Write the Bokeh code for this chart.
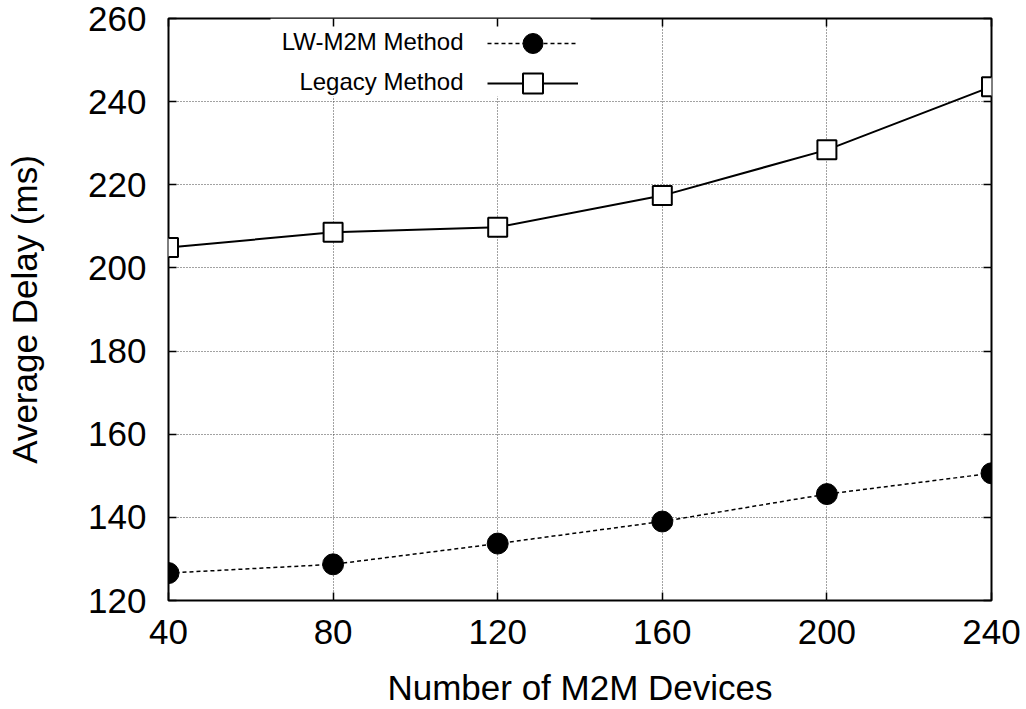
from bokeh.plotting import figure
from bokeh.models import (Range1d, FixedTicker, LinearAxis, Legend, LegendItem,
                          Label, BoxAnnotation)
from bokeh.embed import file_html
from bokeh.resources import INLINE

# ---- data ----
devices = [40, 80, 120, 160, 200, 240]
lw_m2m_delay = [126.6, 128.7, 133.7, 139.0, 145.6, 150.6]
legacy_delay = [204.9, 208.6, 209.8, 217.4, 228.4, 243.6]
x_ticks = [40, 80, 120, 160, 200, 240]
y_ticks = [120, 140, 160, 180, 200, 220, 240, 260]
series_names = ["LW-M2M Method", "Legacy Method"]
x_title = "Number of M2M Devices"
y_title = "Average Delay (ms)"

FONT = "Liberation Sans"

p = figure(width=1026, height=709, output_backend="svg", toolbar_location=None,
           x_range=Range1d(40, 240), y_range=Range1d(120, 260),
           min_border_left=168, min_border_right=35, min_border_top=18,
           min_border_bottom=108, background_fill_color="white",
           border_fill_color="white")

p.outline_line_color = "black"
p.outline_line_width = 2
p.outline_line_alpha = 1

# axes
for ax in [p.xaxis[0], p.yaxis[0]]:
    ax.axis_line_color = None
    ax.major_tick_in = 8
    ax.major_tick_out = 0
    ax.major_tick_line_width = 1.5
    ax.major_tick_line_color = "black"
    ax.minor_tick_line_color = None
    ax.major_label_text_font = FONT
    ax.major_label_text_font_size = "35px"
    ax.major_label_text_color = "black"
    ax.axis_label_text_font = FONT
    ax.axis_label_text_font_style = "normal"
    ax.axis_label_text_color = "black"
    ax.axis_label_text_font_size = "35px"

p.xaxis[0].ticker = FixedTicker(ticks=x_ticks)
p.yaxis[0].ticker = FixedTicker(ticks=y_ticks)
p.xaxis[0].axis_label = x_title
p.yaxis[0].axis_label = y_title
p.xaxis[0].major_label_standoff = 19
p.xaxis[0].axis_label_standoff = 21
p.yaxis[0].major_label_standoff = 22
p.yaxis[0].axis_label_standoff = 41

# mirror ticks on top and right
for loc, tick_list in [("above", x_ticks), ("right", y_ticks)]:
    ax = LinearAxis(ticker=FixedTicker(ticks=tick_list))
    ax.axis_line_color = None
    ax.major_tick_in = 8
    ax.major_tick_out = 0
    ax.major_tick_line_width = 1.5
    ax.major_tick_line_color = "black"
    ax.minor_tick_line_color = None
    ax.major_label_text_font_size = "0px"
    ax.major_label_text_color = None
    ax.major_label_standoff = 0
    p.add_layout(ax, loc)

# grid
p.xgrid[0].ticker = FixedTicker(ticks=x_ticks)
p.ygrid[0].ticker = FixedTicker(ticks=y_ticks)
for g in [p.xgrid[0], p.ygrid[0]]:
    g.grid_line_color = "#444444"
    g.grid_line_width = 1
    g.grid_line_dash = "1 2"

# white legend background (hides the grid behind the key)
key_bg = BoxAnnotation(left=102, right=422, bottom=504,
                       left_units="screen", right_units="screen", bottom_units="screen",
                       fill_color="white", fill_alpha=1, line_color=None, level="underlay")
p.add_layout(key_bg)

# series
r1_line = p.line(devices, lw_m2m_delay, line_color="black", line_width=1.5, line_dash="4 3")
r1_pts = p.scatter(devices, lw_m2m_delay, marker="circle", size=21,
                   fill_color="black", line_color="black")
r2_line = p.line(devices, legacy_delay, line_color="black", line_width=2)
r2_pts = p.scatter(devices, legacy_delay, marker="square", size=19,
                   fill_color="white", line_color="black", line_width=2)

# one key row per series (sample drawn right of the text, as in the original)
for renderers, bottom in [([r1_line, r1_pts], 532), ([r2_line, r2_pts], 492)]:
    lg = Legend(items=[LegendItem(label=" ", renderers=renderers)],
                location=(319, bottom), padding=0, margin=0, spacing=0,
                glyph_width=91, glyph_height=50, label_standoff=0,
                label_text_font_size="1px", label_width=1, label_height=1,
                border_line_color=None, background_fill_alpha=0)
    p.add_layout(lg)

for name, ypos in zip(series_names, [559, 519]):
    p.add_layout(Label(x=295, y=ypos, x_units="screen", y_units="screen", text=name,
                       text_align="right", text_baseline="middle",
                       text_font=FONT, text_font_size="24px", text_color="black"))

open("out.html", "w").write(file_html(p, INLINE))
